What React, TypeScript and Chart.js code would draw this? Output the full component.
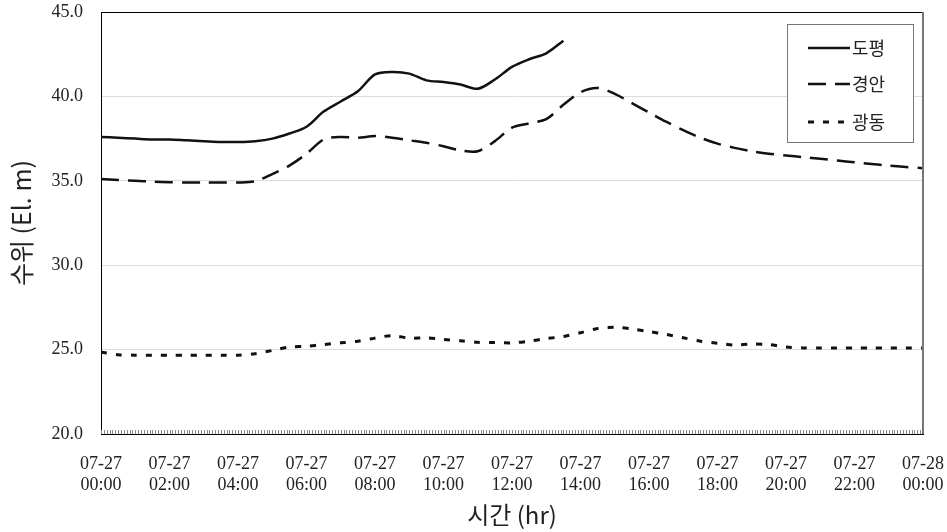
import React, { useEffect, useRef } from 'react';
import { Chart, registerables } from 'chart.js';

Chart.register(...registerables);

// Time in hours from 07-27 00:00 (half-hour steps)
const hours = [
  0, 0.5, 1, 1.5, 2, 2.5, 3, 3.5, 4, 4.5, 5, 5.5, 6, 6.5, 7, 7.5, 8, 8.5, 9, 9.5,
  10, 10.5, 11, 11.5, 12, 12.5, 13, 13.5, 14, 14.5, 15, 15.5, 16, 16.5, 17, 17.5,
  18, 18.5, 19, 19.5, 20, 20.5, 21, 21.5, 22, 22.5, 23, 23.5, 24,
];

// 도평 (ends at about 13:30)
const dopyeong = [
  37.6, 37.55, 37.5, 37.45, 37.45, 37.4, 37.35, 37.3, 37.3, 37.35, 37.5, 37.8,
  38.2, 39.1, 39.7, 40.3, 41.3, 41.45, 41.35, 40.95, 40.85, 40.7, 40.45, 41.0,
  41.75, 42.2, 42.55, 43.3,
];

// 경안
const gyeongan = [
  35.1, 35.05, 35.0, 34.95, 34.92, 34.9, 34.9, 34.9, 34.9, 34.97, 35.4, 35.9,
  36.6, 37.45, 37.6, 37.55, 37.65, 37.55, 37.4, 37.25, 37.05, 36.8, 36.75, 37.35,
  38.15, 38.4, 38.65, 39.5, 40.25, 40.5, 40.15, 39.6, 39.05, 38.5, 38.0, 37.55,
  37.2, 36.95, 36.75, 36.6, 36.5, 36.4, 36.3, 36.2, 36.1, 36.0, 35.9, 35.82, 35.75,
];

// 광동
const gwangdong = [
  24.85, 24.7, 24.67, 24.67, 24.67, 24.67, 24.67, 24.67, 24.67, 24.75, 24.95, 25.15,
  25.2, 25.3, 25.4, 25.5, 25.68, 25.83, 25.68, 25.7, 25.6, 25.52, 25.43, 25.42,
  25.4, 25.5, 25.65, 25.78, 26.0, 26.25, 26.32, 26.22, 26.07, 25.9, 25.7, 25.5,
  25.38, 25.27, 25.33, 25.3, 25.15, 25.1, 25.1, 25.1, 25.1, 25.1, 25.1, 25.1, 25.1,
];

const seriesNames = ['도평', '경안', '광동'];
const seriesDashes: number[][] = [[], [18, 9], [6, 9]];
const seriesWidths = [2.5, 2.5, 3];
const dateLabels = ['07-27', '07-28'];
const yTitle = '수위 (El. m)';
const xTitle = '시간 (hr)';
const minorTicksPerHour = 12;

const toPoints = (vals: number[]) =>
  vals.map((v, i) => ({ x: hours[i], y: v }));

const serif = 'Liberation Serif, Times New Roman, serif';
const kfont = '"Noto Sans CJK KR", "Noto Sans", sans-serif';

const frameAndLegend = {
  id: 'frameAndLegend',
  afterDraw(chart: any) {
    const { ctx, chartArea: a } = chart;
    const xs = chart.scales.x;
    ctx.save();
    // minor ticks on the bottom axis
    ctx.strokeStyle = '#888';
    ctx.lineWidth = 1;
    ctx.beginPath();
    for (let i = 0; i <= 24 * minorTicksPerHour; i++) {
      const px = Math.round(xs.getPixelForValue(i / minorTicksPerHour)) + 0.5;
      ctx.moveTo(px, a.bottom);
      ctx.lineTo(px, a.bottom - 4);
    }
    ctx.stroke();
    // top and right frame
    ctx.strokeStyle = '#000';
    ctx.lineWidth = 1;
    ctx.beginPath();
    ctx.moveTo(a.left, a.top + 0.5);
    ctx.lineTo(a.right, a.top + 0.5);
    ctx.stroke();
    ctx.strokeStyle = '#777';
    ctx.lineWidth = 2;
    ctx.beginPath();
    ctx.moveTo(a.right, a.top);
    ctx.lineTo(a.right, a.bottom);
    ctx.stroke();

    // legend box
    const bw = 126, bh = 118;
    const bx = a.right - 10 - bw;
    const by = a.top + 12;
    ctx.fillStyle = '#fff';
    ctx.fillRect(bx, by, bw, bh);
    ctx.strokeStyle = '#777';
    ctx.lineWidth = 1;
    ctx.strokeRect(bx + 0.5, by + 0.5, bw, bh);
    const rows = [24, 60, 98];
    chart.data.datasets.forEach((ds: any, i: number) => {
      const y = by + rows[i];
      ctx.strokeStyle = ds.borderColor;
      ctx.lineWidth = ds.borderWidth;
      ctx.setLineDash(ds.borderDash || []);
      ctx.beginPath();
      ctx.moveTo(bx + 21, y);
      ctx.lineTo(bx + 63, y);
      ctx.stroke();
      ctx.setLineDash([]);
      ctx.fillStyle = '#222';
      ctx.font = `18px ${kfont}`;
      ctx.textBaseline = 'middle';
      ctx.textAlign = 'left';
      ctx.fillText(ds.label, bx + 65, y);
    });
    ctx.restore();
  },
};

export default function App() {
  const ref = useRef<HTMLCanvasElement | null>(null);

  useEffect(() => {
    document.body.style.margin = '0';
    if (!ref.current) return;
    const all = [dopyeong, gyeongan, gwangdong];
    const chart = new Chart(ref.current, {
      type: 'line',
      data: {
        datasets: all.map((vals, i) => ({
          label: seriesNames[i],
          data: toPoints(vals),
          borderColor: '#111',
          borderWidth: seriesWidths[i],
          borderDash: seriesDashes[i],
          pointRadius: 0,
          tension: 0.3,
          fill: false,
        })),
      },
      options: {
        animation: false,
        responsive: false,
        maintainAspectRatio: false,
        layout: { padding: { left: 0, right: 24, top: 12, bottom: 0 } },
        plugins: {
          legend: { display: false },
          tooltip: { enabled: false },
        },
        scales: {
          x: {
            type: 'linear',
            min: 0,
            max: 24,
            afterFit: (s: any) => {
              s.height = 98;
              s.paddingLeft = 0;
              s.paddingRight = 0;
            },
            ticks: {
              stepSize: 2,
              autoSkip: false,
              maxRotation: 0,
              padding: 20,
              color: '#222',
              font: { family: serif, size: 18, lineHeight: 1.17 },
              callback: (v: any) => {
                const h = Number(v);
                const d = h >= 24 ? dateLabels[1] : dateLabels[0];
                const hh = String(h % 24).padStart(2, '0');
                return [d, `${hh}:00`];
              },
            },
            grid: { display: false, drawTicks: false },
            border: { display: true, color: '#000', width: 1 },
            title: {
              display: true,
              text: xTitle,
              color: '#222',
              font: { family: kfont, size: 24 },
              padding: { top: 2, bottom: 3 },
            },
          },
          y: {
            min: 20,
            max: 45,
            afterFit: (s: any) => {
              s.width = 101;
              s.paddingTop = 0;
              s.paddingBottom = 0;
            },
            ticks: {
              stepSize: 5,
              padding: 18,
              color: '#222',
              font: { family: serif, size: 18 },
              callback: (v: any) => Number(v).toFixed(1),
            },
            grid: {
              drawTicks: false,
              color: (c: any) =>
                c.tick && (c.tick.value === 20 || c.tick.value === 45)
                  ? 'rgba(0,0,0,0)'
                  : '#dcdcdc',
              lineWidth: 1,
            },
            border: { display: true, color: '#000', width: 1 },
            title: {
              display: true,
              text: yTitle,
              color: '#222',
              font: { family: kfont, size: 25 },
              padding: { top: 6, bottom: 0 },
            },
          },
        },
      },
      plugins: [frameAndLegend],
    });
    return () => chart.destroy();
  }, []);

  return (
    <div style={{ width: 947, height: 532, background: '#fff' }}>
      <canvas ref={ref} width={947} height={532} style={{ display: 'block' }} />
    </div>
  );
}
